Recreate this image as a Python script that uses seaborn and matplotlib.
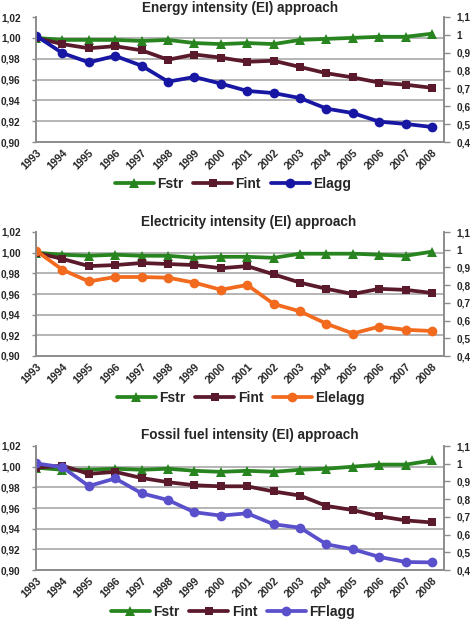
import matplotlib
matplotlib.use("Agg")
import matplotlib.pyplot as plt
from matplotlib.ticker import FuncFormatter
import pandas as pd
import seaborn as sns

# --- data ------------------------------------------------------------------
years = list(range(1993, 2009))

energy_fstr = [1.000, 0.998, 0.998, 0.998, 0.997, 0.998, 0.995, 0.994,
               0.995, 0.994, 0.998, 0.999, 1.000, 1.001, 1.001, 1.004]
energy_fint = [1.000, 0.994, 0.990, 0.992, 0.988, 0.979, 0.984, 0.981,
               0.977, 0.978, 0.972, 0.966, 0.962, 0.957, 0.955, 0.952]
energy_agg = [0.995, 0.898, 0.846, 0.882, 0.827, 0.738, 0.764, 0.727,
              0.686, 0.674, 0.646, 0.587, 0.562, 0.514, 0.501, 0.484]

elec_fstr = [1.000, 0.998, 0.997, 0.998, 0.997, 0.997, 0.995, 0.996,
             0.996, 0.995, 0.999, 0.999, 0.999, 0.998, 0.997, 1.001]
elec_fint = [1.000, 0.994, 0.987, 0.988, 0.990, 0.989, 0.988, 0.985,
             0.987, 0.979, 0.971, 0.965, 0.960, 0.965, 0.964, 0.961]
elec_agg = [0.995, 0.887, 0.821, 0.846, 0.846, 0.842, 0.814, 0.774,
            0.801, 0.694, 0.652, 0.582, 0.527, 0.566, 0.548, 0.541]

fossil_fstr = [0.999, 0.997, 0.997, 0.998, 0.997, 0.998, 0.996, 0.995,
               0.996, 0.995, 0.997, 0.998, 1.000, 1.002, 1.002, 1.006]
fossil_fint = [0.999, 1.001, 0.993, 0.995, 0.989, 0.985, 0.982, 0.981,
               0.981, 0.976, 0.972, 0.962, 0.958, 0.952, 0.948, 0.946]
fossil_agg = [1.002, 0.980, 0.874, 0.917, 0.833, 0.795, 0.726, 0.707,
              0.720, 0.658, 0.639, 0.545, 0.517, 0.474, 0.445, 0.443]

titles = ["Energy intensity (EI) approach",
          "Electricity intensity (EI) approach",
          "Fossil fuel intensity (EI) approach"]
agg_names = ["Elagg", "Elelagg", "FFlagg"]
agg_colors = ["#1717A3", "#F26A1E", "#5B50CC"]

panels = [
    (energy_fstr, energy_fint, energy_agg),
    (elec_fstr, elec_fint, elec_agg),
    (fossil_fstr, fossil_fint, fossil_agg),
]

# layout in pixels (top of axes, bottom of axes, title y, title x, legend y, legend x)
W, H = 473, 620
layout = [
    (17, 142, 8, 240, 184, 233),
    (232, 356, 222, 249, 398, 241),
    (446, 570, 435, 250, 612, 233),
]
AX_L, AX_R = 36, 444

GREEN = "#27841F"
MAROON = "#5A1A2C"
GRID = "#A8A8A8"
SPINE = "#8C8C8C"

sns.set_style("white")
plt.rcParams["font.family"] = ["Liberation Sans", "DejaVu Sans"]
plt.rcParams["font.weight"] = "bold"

fig = plt.figure(figsize=(W / 100, H / 100), dpi=100)

left_fmt = FuncFormatter(lambda v, p: f"{v:.2f}".replace(".", ","))
right_fmt = FuncFormatter(lambda v, p: ("1" if abs(v - 1) < 1e-9 else f"{v:.1f}").replace(".", ","))

line_kw = dict(linewidth=2.7, markeredgewidth=0)

for (fstr, fint, agg), (top, bot, ty, tx, ly, lx), title, name, col in zip(
        panels, layout, titles, agg_names, agg_colors):
    ax = fig.add_axes([AX_L / W, 1 - bot / H, (AX_R - AX_L) / W, (bot - top) / H])
    ax2 = ax.twinx()

    df = pd.DataFrame({"year": years, "Fstr": fstr, "Fint": fint, name: agg})

    sns.lineplot(data=df, x="year", y="Fstr", ax=ax, color=GREEN, marker="^",
                 markersize=6.5, legend=False, **line_kw)
    sns.lineplot(data=df, x="year", y="Fint", ax=ax, color=MAROON, marker="s",
                 markersize=6, legend=False, **line_kw)
    sns.lineplot(data=df, x="year", y=name, ax=ax2, color=col, marker="o",
                 markersize=7, legend=False, **line_kw)

    ax.set_xlim(1993, 2008.45)
    ax.set_ylim(0.90, 1.02)
    ax2.set_ylim(0.4, 1.1)
    ax.set_yticks([0.90, 0.92, 0.94, 0.96, 0.98, 1.00, 1.02])
    ax2.set_yticks([0.4, 0.5, 0.6, 0.7, 0.8, 0.9, 1.0, 1.1])
    ax.yaxis.set_major_formatter(left_fmt)
    ax2.yaxis.set_major_formatter(right_fmt)

    ax.set_xticks(years)
    ax.set_xticklabels([str(y) for y in years], rotation=45, ha="right",
                       rotation_mode="anchor", fontsize=7.7, fontweight="bold")
    ax.tick_params(axis="x", length=0, pad=4)
    ax.tick_params(axis="y", length=3, width=1, color=SPINE, pad=8, labelsize=7.2)
    ax2.tick_params(axis="y", length=4, width=1, color=SPINE, pad=5, labelsize=7.2)
    for lbl in ax.get_yticklabels() + ax2.get_yticklabels():
        lbl.set_fontweight("bold")

    ax.set_xlabel("")
    ax.set_ylabel("")
    ax2.set_ylabel("")

    ax.yaxis.grid(True, color=GRID, linewidth=1.2)
    ax.xaxis.grid(False)
    ax.set_axisbelow(True)
    ax.get_ygridlines()[-1].set_visible(False)

    for a in (ax, ax2):
        a.spines["top"].set_visible(False)
        for s in ("left", "right", "bottom"):
            a.spines[s].set_color(SPINE)
            a.spines[s].set_linewidth(1.2)

    fig.text(tx / W, 1 - ty / H, title, ha="center", va="center",
             fontsize=9.8, fontweight="bold")

    handles = [ax.lines[0], ax.lines[1], ax2.lines[0]]
    fig.legend(handles, ["Fstr", "Fint", name], loc="center",
               bbox_to_anchor=(lx / W, 1 - ly / H), ncol=3, frameon=False,
               handlelength=2.8, handletextpad=0.25,
               columnspacing=0.7, borderaxespad=0, borderpad=0,
               prop={"weight": "bold", "size": 10})

fig.savefig("out.png", dpi=100)
